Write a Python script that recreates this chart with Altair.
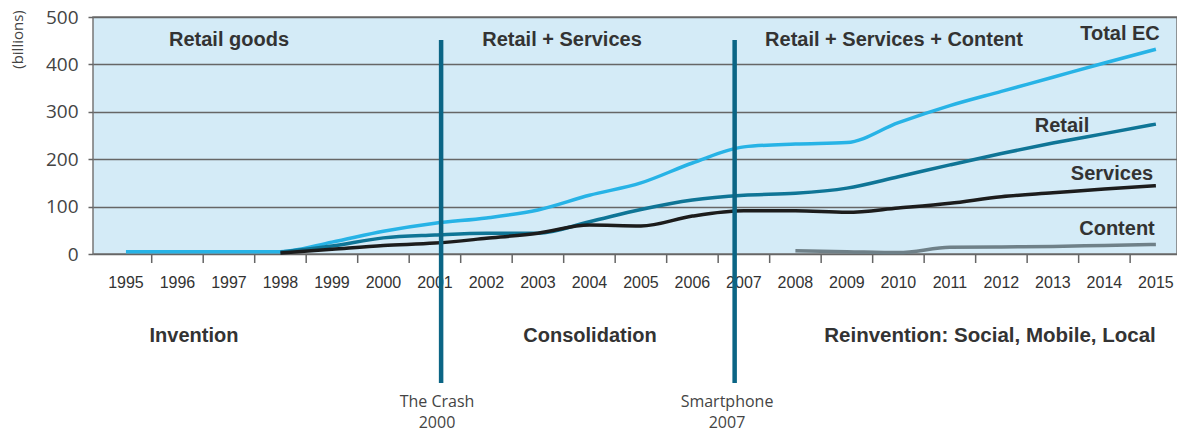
import altair as alt
import pandas as pd

years = list(range(1995, 2016))
total_ec = [5, 5, 5, 5, 25, 48, 65, 76, 93, 124, 150, 192, 226, 232, 235, 277, 313, 343, 373, 403, 432]
retail = [None, None, None, 4, 17, 34, 40, 44, 44, 68, 94, 114, 124, 128, 139, 163, 188, 212, 234, 254, 274]
services = [None, None, None, 2, 10, 18, 23, 33, 44, 61, 59, 80, 91, 91, 88, 97, 107, 121, 129, 137, 144]
content = [None] * 13 + [7, 5, 3, 14, 15, 16, 18, 20]

series_names = ["Total EC", "Retail", "Services", "Content"]
series_colors = ["#27b3e6", "#0f7596", "#1c1c1c", "#6f8088"]

event_years = [2001.12, 2006.82]
y_ticks = [0, 100, 200, 300, 400, 500]

rows = []
for name, vals in zip(series_names, [total_ec, retail, services, content]):
    for yr, v in zip(years, vals):
        if v is not None:
            rows.append({"year": yr, "value": v, "series": name})
df = pd.DataFrame(rows)

W, H = 1084, 237
xscale = alt.Scale(domain=[1994.36, 2015.41], nice=False, zero=False)
yscale = alt.Scale(domain=[0, 500], nice=False)

lines = alt.Chart(df).mark_line(strokeWidth=3.5, interpolate="monotone").encode(
    x=alt.X("year:Q", scale=xscale, axis=None),
    y=alt.Y("value:Q", scale=yscale,
            axis=alt.Axis(values=y_ticks, grid=True, gridColor="#666", gridWidth=1.5,
                          tickSize=5, tickColor="#666", tickWidth=1.5, labelPadding=10,
                          labelFontSize=19, labelFont="Open Sans", labelColor="#444",
                          domain=False, title="(billions)", titleFont="Open Sans",
                          titleFontSize=15, titleFontWeight="normal", titleColor="#444",
                          titleX=-76, titleY=22, titleAngle=270, titleAlign="center",
                          titleBaseline="middle")),
    color=alt.Color("series:N", scale=alt.Scale(domain=series_names, range=series_colors), legend=None),
)

year_labels = alt.Chart(pd.DataFrame({"year": years})).mark_text(
    fontSize=16, font="Liberation Sans", color="#333", baseline="middle"
).encode(
    x=alt.X("year:Q", scale=xscale, axis=None),
    y=alt.value(H + 29),
    text=alt.Text("year:Q", format="d"),
)

tick_pos = [yr + 0.5 for yr in years[:-1]]
ticks = alt.Chart(pd.DataFrame({"t": tick_pos})).mark_rule(color="#666", strokeWidth=1.5).encode(
    x=alt.X("t:Q", scale=xscale, axis=None),
    y=alt.value(H),
    y2=alt.value(H + 9),
)

events = alt.Chart(pd.DataFrame({"e": event_years})).mark_rule(color="#0b6585", strokeWidth=4.5).encode(
    x=alt.X("e:Q", scale=xscale, axis=None),
    y=alt.value(23),
    y2=alt.value(366),
)

one = pd.DataFrame({"a": [0]})


def label(txt, x, y, size=20, bold=True, font="Liberation Sans", color="#333", align="center"):
    return alt.Chart(one).mark_text(
        text=txt, fontSize=size, fontWeight="bold" if bold else "normal", font=font,
        color=color, align=align, baseline="middle"
    ).encode(x=alt.value(x), y=alt.value(y))


texts = [
    label("Retail goods", 136, 23),
    label("Retail + Services", 469, 23),
    label("Retail + Services + Content", 801, 23),
    label("Total EC", 1027, 17),
    label("Retail", 969, 109),
    label("Services", 1019, 157),
    label("Content", 1024, 212),
    label("Invention", 101, 319),
    label("Consolidation", 497, 319),
    label("Reinvention: Social, Mobile, Local", 897, 319, size=20.5),
    label("The Crash", 344, 385, size=16, bold=False, font="Open Sans", color="#444"),
    label("2000", 344, 406, size=16, bold=False, font="Open Sans", color="#444"),
    label("Smartphone", 634, 385, size=16, bold=False, font="Open Sans", color="#444"),
    label("2007", 634, 406, size=16, bold=False, font="Open Sans", color="#444"),
]

chart = alt.layer(lines, ticks, year_labels, events, *texts).properties(
    width=W, height=H,
    padding={"left": 85, "top": 9, "right": 0, "bottom": 178},
    autosize=alt.AutoSizeParams(type="none"),
    background="white",
).configure_view(fill="#d4ebf7", stroke="#777", strokeWidth=1.5)

chart.save("out.html", embed_options={"renderer": "svg", "actions": False})
